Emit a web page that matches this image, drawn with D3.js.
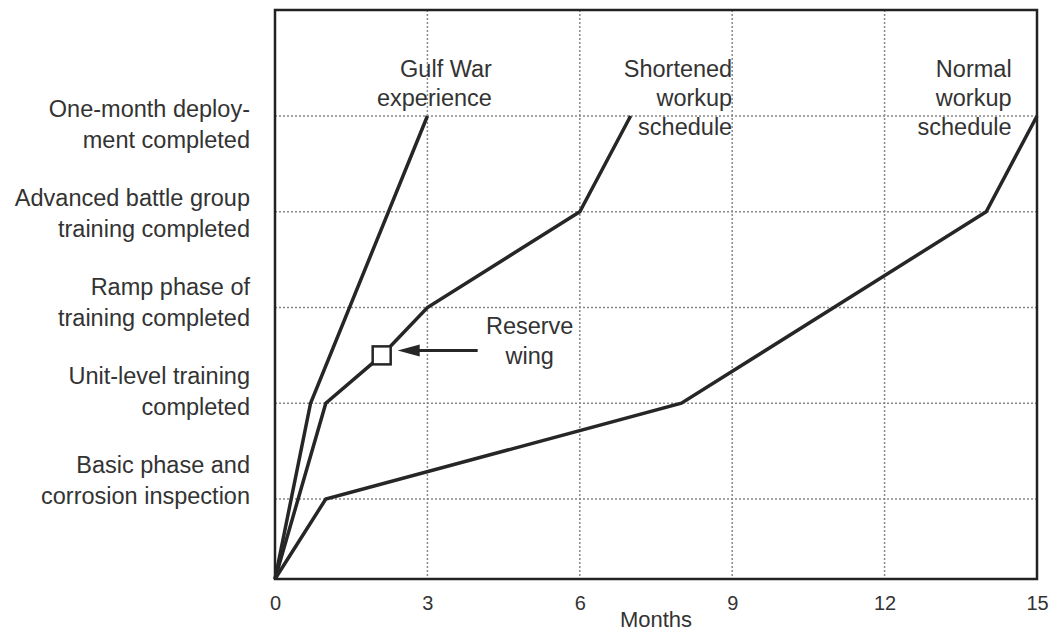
<!DOCTYPE html>
<html>
<head>
<meta charset="utf-8">
<script src="https://cdn.jsdelivr.net/npm/d3@7"></script>
<style>
  body { margin: 0; background: #fff; }
  svg text { font-family: "Liberation Sans", Arial, Helvetica, sans-serif; fill: #333; }
  .grid line { stroke: #888; stroke-width: 1.5; stroke-dasharray: 2,2; }
  .series { fill: none; stroke: #262626; stroke-width: 3.5; stroke-linejoin: miter; }
</style>
</head>
<body>
<div id="chart"></div>
<script>
// milestone levels (y) and their labels, bottom to top
var levels = [1, 2, 3, 4, 5];
var levelLabels = [
    ["Basic phase and", "corrosion inspection"],
    ["Unit-level training", "completed"],
    ["Ramp phase of", "training completed"],
    ["Advanced battle group", "training completed"],
    ["One-month deploy-", "ment completed"]
];

// x axis ticks (months)
var monthTicks = [0, 3, 6, 9, 12, 15];

// each schedule: months elapsed at each milestone level
var gulfMonths = [0, 0.7, 3];
var gulfLevels = [0, 2, 5];
var shortMonths = [0, 1, 2.1, 3, 6, 7];
var shortLevels = [0, 2, 2.5, 3, 4, 5];
var normalMonths = [0, 1, 8, 14, 15];
var normalLevels = [0, 1, 2, 4, 5];

var seriesNames = [["Gulf War", "experience"], ["Shortened", "workup", "schedule"], ["Normal", "workup", "schedule"]];
var seriesLabelAt = [4.27, 9, 14.5]; // month where each label's right edge sits

// reserve wing marker
var reserveMonth = 2.1;
var reserveLevel = 2.5;

var W = 1058, H = 633;
var margin = {top: 10, right: 21, bottom: 54, left: 275};
var width = W - margin.left - margin.right;
var height = H - margin.top - margin.bottom;

var svg = d3.select("#chart").append("svg")
    .attr("width", W).attr("height", H);
var g = svg.append("g").attr("transform", "translate(" + margin.left + "," + margin.top + ")");

var x = d3.scaleLinear().domain([0, 15]).range([0, width]);
// origin sits a little below the first milestone
var y = d3.scaleLinear().domain([0, 1, 5]).range([height, height - 80, 106]);
// labels on the left are spaced a bit tighter than the grid
var labelY = d3.scaleLinear().domain([1, 5]).range([height - 99, 114]);

// grid
var grid = g.append("g").attr("class", "grid");
grid.selectAll(".vx").data(monthTicks.slice(1, -1)).enter().append("line")
    .attr("x1", x).attr("x2", x).attr("y1", 0).attr("y2", height);
grid.selectAll(".hy").data(levels).enter().append("line")
    .attr("x1", 0).attr("x2", width)
    .attr("y1", function (d) { return y(d); }).attr("y2", function (d) { return y(d); });

// frame
g.append("rect").attr("x", 0).attr("y", 0).attr("width", width).attr("height", height)
    .attr("fill", "none").attr("stroke", "#222").attr("stroke-width", 2.5);

// x axis labels
var xAxis = d3.axisBottom(x).tickValues(monthTicks).tickSize(0).tickPadding(17);
var xg = g.append("g").attr("transform", "translate(0," + height + ")").call(xAxis);
xg.select(".domain").remove();
xg.selectAll("text").attr("font-size", 20).attr("font-family", null).attr("fill", "#333");

g.append("text").attr("x", width / 2).attr("y", height + 48)
    .attr("text-anchor", "middle").attr("font-size", 22).text("Months");

// level labels
var lab = g.selectAll(".lvl").data(levels).enter().append("text")
    .attr("class", "lvl").attr("text-anchor", "end").attr("font-size", 23.5)
    .attr("transform", function (d) { return "translate(" + (-25) + "," + labelY(d) + ")"; });
lab.selectAll("tspan").data(function (d, i) { return levelLabels[i]; }).enter().append("tspan")
    .attr("x", 0).attr("y", function (d, i) { return i * 31 - 7; }).text(function (d) { return d; });

// series
var line = d3.line().x(function (d) { return x(d[0]); }).y(function (d) { return y(d[1]); });
var series = [d3.zip(gulfMonths, gulfLevels), d3.zip(shortMonths, shortLevels), d3.zip(normalMonths, normalLevels)];
g.selectAll(".series").data(series).enter().append("path")
    .attr("class", "series").attr("d", line);

// series labels, right aligned
var slab = g.selectAll(".slab").data(seriesNames).enter().append("text")
    .attr("class", "slab").attr("text-anchor", "end").attr("font-size", 23.5)
    .attr("transform", function (d, i) {
        return "translate(" + x(seriesLabelAt[i]) + ",67)";
    });
slab.selectAll("tspan").data(function (d) { return d; }).enter().append("tspan")
    .attr("x", 0).attr("y", function (d, i) { return i * 29; }).text(function (d) { return d; });

// reserve wing marker and arrow
g.append("rect")
    .attr("x", x(reserveMonth) - 9).attr("y", y(reserveLevel) - 9)
    .attr("width", 18).attr("height", 18)
    .attr("fill", "#fff").attr("stroke", "#262626").attr("stroke-width", 2.5);

var ax0 = x(reserveMonth) + 16, ay = y(reserveLevel) - 5;
g.append("line").attr("x1", ax0 + 18).attr("x2", ax0 + 80).attr("y1", ay).attr("y2", ay)
    .attr("stroke", "#262626").attr("stroke-width", 3);
g.append("path")
    .attr("d", "M" + ax0 + "," + ay + "L" + (ax0 + 22) + "," + (ay - 6) + "L" + (ax0 + 22) + "," + (ay + 6) + "Z")
    .attr("fill", "#262626");

var rw = g.append("text").attr("text-anchor", "middle").attr("font-size", 23.5)
    .attr("transform", "translate(" + (x(reserveMonth) + 148) + "," + (y(reserveLevel) - 21) + ")");
rw.append("tspan").attr("x", 0).attr("y", 0).text("Reserve");
rw.append("tspan").attr("x", 0).attr("y", 30).text("wing");
</script>
</body>
</html>
